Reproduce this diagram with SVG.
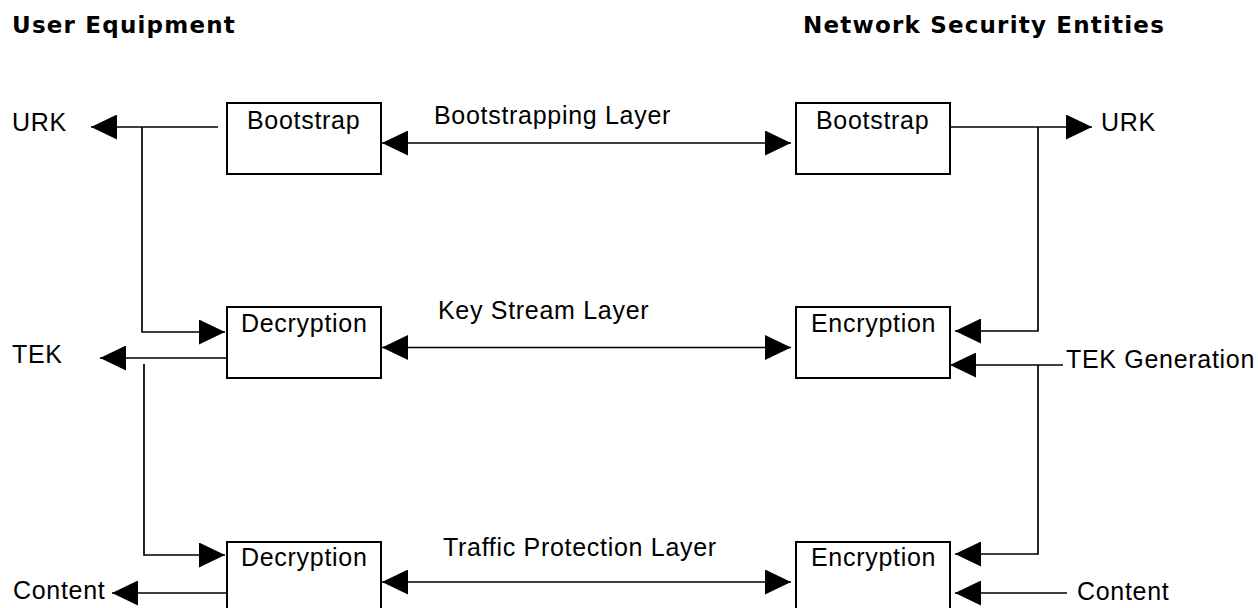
<svg xmlns="http://www.w3.org/2000/svg" width="1258" height="608" viewBox="0 0 1258 608">
  <style>
    .title { font-family: "DejaVu Sans", Verdana, sans-serif; font-weight: bold; font-size: 23px; letter-spacing: 1.2px; fill: #000; }
    .lbl { font-family: "Liberation Sans", Arial, sans-serif; font-size: 25px; letter-spacing: 0.7px; fill: #000; }
    .box { fill: #fff; stroke: #000; stroke-width: 2; }
    .wire { fill: none; stroke: #000; stroke-width: 1.7; }
    .arr { marker-end: url(#head); }
    .both { marker-start: url(#head); marker-end: url(#head); }
  </style>
  <defs>
    <marker id="head" viewBox="0 0 26 25" refX="26" refY="12.5" markerWidth="26" markerHeight="25" markerUnits="userSpaceOnUse" orient="auto-start-reverse">
      <path d="M0,0 L26,12.5 L0,25 Z" fill="#000"/>
    </marker>
  </defs>

  <rect width="1258" height="608" fill="#fff"/>

  <!-- column headings -->
  <text class="title" x="12" y="33">User Equipment</text>
  <text class="title" x="803" y="33">Network Security Entities</text>

  <!-- layer labels -->
  <text class="lbl" x="434" y="124">Bootstrapping Layer</text>
  <text class="lbl" x="438" y="319">Key Stream Layer</text>
  <text class="lbl" x="443" y="556">Traffic Protection Layer</text>

  <!-- key / data labels -->
  <text class="lbl" x="12" y="131">URK</text>
  <text class="lbl" x="12" y="363">TEK</text>
  <text class="lbl" x="13" y="599">Content</text>
  <text class="lbl" x="1101" y="131">URK</text>
  <text class="lbl" x="1066" y="368">TEK Generation</text>
  <text class="lbl" x="1077" y="600">Content</text>

  <g id="connectors">
    <!-- user equipment side -->
    <path class="wire arr" d="M218,127 H91"/>
    <path class="wire arr" d="M142,127 V332 H225"/>
    <path class="wire arr" d="M227,358 H100"/>
    <path class="wire arr" d="M144,364 V555 H225"/>
    <path class="wire arr" d="M227,593 H112"/>
    <!-- layer links -->
    <path class="wire both" d="M382,143 H791"/>
    <path class="wire both" d="M382,347.5 H791"/>
    <path class="wire both" d="M382,582 H791"/>
    <!-- network side -->
    <path class="wire arr" d="M948,127 H1092"/>
    <path class="wire arr" d="M1038,127 V331 H955"/>
    <path class="wire arr" d="M1063,365 H950"/>
    <path class="wire arr" d="M1038,365 V554 H955"/>
    <path class="wire arr" d="M1067,593 H955"/>
  </g>

  <g id="ue-bootstrap">
    <rect class="box" x="227" y="103" width="154" height="71"/>
    <text class="lbl" x="247" y="129">Bootstrap</text>
  </g>
  <g id="ue-keystream-decryption">
    <rect class="box" x="227" y="307" width="154" height="71"/>
    <text class="lbl" x="241" y="332">Decryption</text>
  </g>
  <g id="ue-traffic-decryption">
    <rect class="box" x="227" y="542" width="154" height="71"/>
    <text class="lbl" x="241" y="566">Decryption</text>
  </g>
  <g id="net-bootstrap">
    <rect class="box" x="796" y="103" width="154" height="71"/>
    <text class="lbl" x="816" y="129">Bootstrap</text>
  </g>
  <g id="net-keystream-encryption">
    <rect class="box" x="796" y="307" width="154" height="71"/>
    <text class="lbl" x="811" y="332">Encryption</text>
  </g>
  <g id="net-traffic-encryption">
    <rect class="box" x="796" y="542" width="154" height="71"/>
    <text class="lbl" x="811" y="566">Encryption</text>
  </g>
</svg>
